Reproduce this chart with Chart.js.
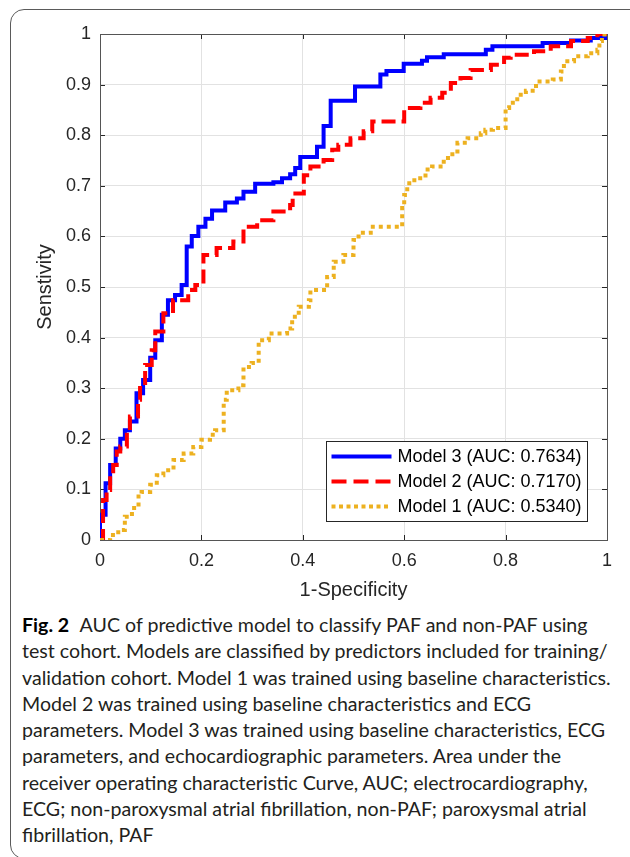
<!DOCTYPE html>
<html>
<head>
<meta charset="utf-8">
<script src="https://cdn.jsdelivr.net/npm/chart.js@4.4.0/dist/chart.umd.min.js"></script>
<style>
  html, body { margin: 0; padding: 0; background: #fff; }
  body { width: 630px; height: 857px; position: relative; overflow: hidden; }
  .frame {
    position: absolute; left: 10px; top: 9px; width: 660px; height: 850px;
    border: 1px solid #5a5a5a; border-radius: 14px; box-sizing: border-box;
  }
  #chartWrap { position: absolute; left: 0; top: 0; width: 630px; height: 610px; }
  .caption {
    position: absolute; left: 22px; top: 612px;
    font-family: Lato, "Open Sans", sans-serif; font-size: 19.6px; line-height: 26.3px;
    color: #231f20; white-space: nowrap;
  }
  .caption b { color: #000; margin-right: 6px; }
</style>
</head>
<body>
<div class="frame"></div>
<div id="chartWrap"><canvas id="roc" width="630" height="610"></canvas></div>
<div class="caption">
<b>Fig. 2</b> AUC of predictive model to classify PAF and non-PAF using<br>
test cohort. Models are classified by predictors included for training/<br>
validation cohort. Model 1 was trained using baseline characteristics.<br>
Model 2 was trained using baseline characteristics and ECG<br>
parameters. Model 3 was trained using baseline characteristics, ECG<br>
parameters, and echocardiographic parameters. Area under the<br>
receiver operating characteristic Curve, AUC; electrocardiography,<br>
ECG; non-paroxysmal atrial fibrillation, non-PAF; paroxysmal atrial<br>
fibrillation, PAF
</div>
<script>
// ROC curve vertices (1-specificity, sensitivity)
const modelLabels = ['Model 3 (AUC: 0.7634)', 'Model 2 (AUC: 0.7170)', 'Model 1 (AUC: 0.5340)'];
const xTickLabels = ['0', '0.2', '0.4', '0.6', '0.8', '1'];
const yTickLabels = ['0', '0.1', '0.2', '0.3', '0.4', '0.5', '0.6', '0.7', '0.8', '0.9', '1'];

const fprM3 = [0, 0, 0.011, 0.02, 0.031, 0.04, 0.049, 0.059, 0.072, 0.085, 0.099, 0.109, 0.122, 0.134, 0.148,
  0.161, 0.171, 0.181, 0.194, 0.208, 0.221, 0.247, 0.27, 0.283, 0.306, 0.342, 0.359, 0.375, 0.385, 0.395,
  0.428, 0.441, 0.455, 0.503, 0.553, 0.565, 0.599, 0.635, 0.645, 0.678, 0.761, 0.774, 0.873, 0.929, 0.968, 1];
const tprM3 = [0, 0.05, 0.112, 0.148, 0.181, 0.2, 0.217, 0.234, 0.29, 0.316, 0.36, 0.395, 0.445, 0.474, 0.484,
  0.504, 0.58, 0.601, 0.619, 0.635, 0.651, 0.667, 0.675, 0.688, 0.704, 0.707, 0.715, 0.723, 0.735, 0.757,
  0.777, 0.818, 0.868, 0.896, 0.92, 0.927, 0.941, 0.947, 0.954, 0.96, 0.969, 0.976, 0.982, 0.987, 0.992, 1];

const fprM2 = [0, 0.006, 0.013, 0.02, 0.026, 0.033, 0.04, 0.053, 0.059, 0.075, 0.079, 0.089, 0.102, 0.109, 0.125,
  0.144, 0.174, 0.188, 0.204, 0.23, 0.263, 0.283, 0.31, 0.342, 0.375, 0.38, 0.402, 0.415, 0.441, 0.458,
  0.47, 0.494, 0.52, 0.537, 0.6, 0.632, 0.652, 0.675, 0.692, 0.711, 0.731, 0.771, 0.797, 0.81, 0.856,
  0.889, 0.929, 0.962, 0.981, 1];
const tprM2 = [0, 0.079, 0.099, 0.132, 0.148, 0.175, 0.185, 0.217, 0.244, 0.277, 0.306, 0.346, 0.375, 0.412, 0.448,
  0.474, 0.494, 0.504, 0.563, 0.577, 0.59, 0.619, 0.632, 0.649, 0.662, 0.685, 0.721, 0.738, 0.751, 0.771,
  0.781, 0.794, 0.808, 0.827, 0.854, 0.864, 0.874, 0.884, 0.903, 0.913, 0.929, 0.939, 0.953, 0.959, 0.966,
  0.976, 0.986, 0.992, 1, 1];

const fprM1 = [0, 0.02, 0.036, 0.049, 0.063, 0.076, 0.082, 0.099, 0.112, 0.125, 0.145, 0.165, 0.184, 0.2, 0.217,
  0.227, 0.244, 0.25, 0.273, 0.283, 0.299, 0.313, 0.333, 0.369, 0.379, 0.392, 0.412, 0.415, 0.448, 0.461,
  0.48, 0.5, 0.51, 0.534, 0.596, 0.6, 0.606, 0.62, 0.642, 0.655, 0.678, 0.695, 0.705, 0.725, 0.751,
  0.76, 0.775, 0.8, 0.807, 0.823, 0.84, 0.86, 0.893, 0.909, 0.915, 0.935, 0.962, 0.981, 0.985, 0.99, 1];
const tprM1 = [0, 0.01, 0.02, 0.046, 0.063, 0.086, 0.095, 0.109, 0.128, 0.138, 0.158, 0.171, 0.184, 0.198, 0.208,
  0.217, 0.277, 0.296, 0.306, 0.342, 0.35, 0.395, 0.408, 0.418, 0.441, 0.461, 0.474, 0.494, 0.52, 0.55,
  0.563, 0.593, 0.607, 0.619, 0.656, 0.682, 0.705, 0.715, 0.732, 0.738, 0.755, 0.768, 0.785, 0.794, 0.804,
  0.811, 0.814, 0.854, 0.864, 0.88, 0.888, 0.906, 0.91, 0.926, 0.946, 0.956, 0.962, 0.969, 0.986, 0.999, 1];

const FONT = "'Liberation Sans', Arial, sans-serif";
const AXIS_COLOR = '#262626';

function toPoints(xs, ys) {
  return xs.map((x, i) => ({ x: x, y: ys[i] }));
}

// MATLAB-like box, inward ticks and legend drawn on the canvas
const matlabAxes = {
  id: 'matlabAxes',
  beforeDatasetsDraw(chart) {
    const { ctx, chartArea: a, scales } = chart;
    ctx.save();
    ctx.strokeStyle = AXIS_COLOR;
    ctx.lineWidth = 1;
    ctx.beginPath();
    scales.x.ticks.forEach(t => {
      const px = Math.round(scales.x.getPixelForValue(t.value)) + 0.5;
      ctx.moveTo(px, a.bottom); ctx.lineTo(px, a.bottom - 5);
      ctx.moveTo(px, a.top); ctx.lineTo(px, a.top + 5);
    });
    scales.y.ticks.forEach(t => {
      const py = Math.round(scales.y.getPixelForValue(t.value)) + 0.5;
      ctx.moveTo(a.left, py); ctx.lineTo(a.left + 5, py);
      ctx.moveTo(a.right, py); ctx.lineTo(a.right - 5, py);
    });
    ctx.stroke();
    ctx.strokeStyle = '#555';
    ctx.strokeRect(Math.round(a.left) + 0.5, Math.round(a.top) + 0.5,
      Math.round(a.right - a.left), Math.round(a.bottom - a.top));
    ctx.restore();
  },
  afterDatasetsDraw(chart) {
    const { ctx, chartArea: a } = chart;
    const sets = chart.data.datasets;
    ctx.save();
    ctx.font = '18px ' + FONT;
    const textW = Math.max(...sets.map(d => ctx.measureText(d.label).width));
    const w = Math.round(5 + 60 + 6 + textW + 6);
    const h = 80;
    const x0 = Math.round(a.right - 20 - w) + 0.5;
    const y0 = Math.round(a.bottom - 19 - h) + 0.5;
    ctx.fillStyle = '#fff';
    ctx.fillRect(x0, y0, w, h);
    ctx.strokeStyle = AXIS_COLOR;
    ctx.lineWidth = 1;
    ctx.strokeRect(x0, y0, w, h);
    sets.forEach((d, i) => {
      const cy = y0 + 15 + i * 25;
      ctx.beginPath();
      ctx.strokeStyle = d.borderColor;
      ctx.lineWidth = d.borderWidth;
      ctx.setLineDash(d.legendDash || []);
      ctx.moveTo(x0 + 5, cy);
      ctx.lineTo(x0 + 65, cy);
      ctx.stroke();
      ctx.setLineDash([]);
      ctx.fillStyle = '#000';
      ctx.textBaseline = 'middle';
      ctx.textAlign = 'left';
      ctx.fillText(d.label, x0 + 71, cy + 1);
    });
    ctx.restore();
  }
};

const ctx = document.getElementById('roc').getContext('2d');
new Chart(ctx, {
  type: 'line',
  data: {
    datasets: [
      {
        label: modelLabels[0],
        data: toPoints(fprM3, tprM3),
        borderColor: '#0000ff',
        borderWidth: 4,
        stepped: 'before',
        pointRadius: 0,
        order: 3
      },
      {
        label: modelLabels[1],
        data: toPoints(fprM2, tprM2),
        borderColor: '#ff0000',
        borderWidth: 4,
        borderDash: [14, 6],
        legendDash: [15, 7],
        stepped: 'before',
        pointRadius: 0,
        order: 2
      },
      {
        label: modelLabels[2],
        data: toPoints(fprM1, tprM1),
        borderColor: '#edb120',
        borderWidth: 4,
        borderDash: [4, 4],
        legendDash: [4, 3.5],
        stepped: 'before',
        pointRadius: 0,
        order: 1
      }
    ]
  },
  options: {
    responsive: false,
    animation: false,
    layout: { padding: { left: 0, right: 23, top: 34, bottom: 0 } },
    plugins: {
      legend: { display: false },
      tooltip: { enabled: false }
    },
    scales: {
      x: {
        type: 'linear',
        min: 0,
        max: 1,
        afterFit: s => { s.height = 70; },
        border: { display: false },
        grid: { color: '#e2e2e2', drawTicks: false },
        ticks: {
          stepSize: 0.2, padding: 10, color: AXIS_COLOR, font: { family: FONT, size: 18 },
          callback: (v, i) => xTickLabels[i]
        },
        title: {
          display: true,
          text: '1-Specificity',
          color: AXIS_COLOR,
          font: { family: FONT, size: 20 },
          padding: { top: 0, bottom: 8 }
        }
      },
      y: {
        min: 0,
        max: 1,
        afterFit: s => { s.width = 100; },
        border: { display: false },
        grid: { color: '#e2e2e2', drawTicks: false },
        ticks: {
          stepSize: 0.1, padding: 9, color: AXIS_COLOR, font: { family: FONT, size: 18 },
          callback: (v, i) => yTickLabels[i]
        },
        title: {
          display: true,
          text: 'Senstivity',
          color: AXIS_COLOR,
          font: { family: FONT, size: 20 },
          padding: { top: 33, bottom: 0 }
        }
      }
    }
  },
  plugins: [matlabAxes]
});
</script>
</body>
</html>
